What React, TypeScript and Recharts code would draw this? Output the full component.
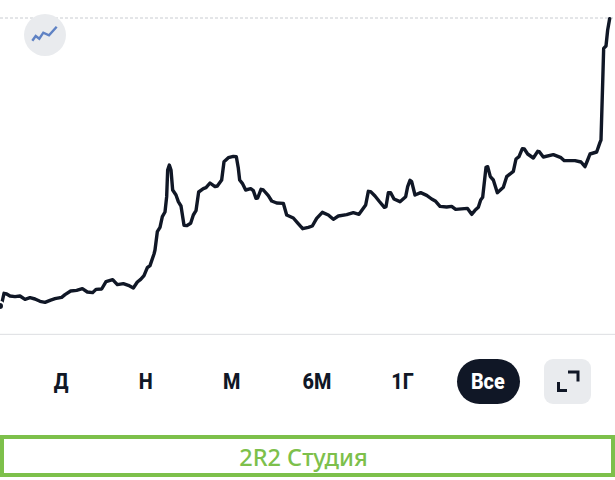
import React from "react";
import { LineChart, Line, XAxis, YAxis, ReferenceLine } from "recharts";

const times = [0,5,12,20,30,45,60,75,90,105,120,135,150,165,185,195,212,230,247,262,278,288,305,318,338,352,370,385,400,412,422,432,442,450,462,465,472,480,487,495,500,503,508,513,518,528,535,543,552,560,572,580,588,596,610,618,630,645,652,665,672,685,700,709,715,719,727,737,752,760,768,773,783,790,805,815,830,850,860,880,892,908,925,937,950,967,985,1000,1015,1040,1060,1077,1090,1097,1105,1112,1125,1137,1153,1158,1165,1172,1182,1200,1217,1223,1230,1235,1245,1262,1280,1295,1307,1320,1340,1355,1367,1402,1415,1425,1435,1442,1448,1458,1463,1471,1480,1492,1510,1520,1540,1548,1557,1567,1573,1583,1600,1613,1618,1630,1660,1683,1693,1725,1743,1755,1763,1770,1790,1800,1803,1808,1811,1818,1823,1829];
const prices = [102,108,140,138,132,130,132,122,127,123,116,113,119,124,128,136,147,149,154,144,142,152,153,175,181,166,169,164,156,174,182,193,217,223,258,270,325,338,370,384,430,510,525,510,450,435,415,402,344,343,350,375,388,444,454,457,471,460,462,480,535,547,551,550,515,480,470,450,454,448,425,426,452,450,433,417,411,410,375,366,352,334,338,342,365,383,375,362,372,376,382,377,395,405,446,445,432,417,398,400,442,442,423,415,430,460,479,475,435,442,434,423,416,401,399,401,392,395,377,389,398,420,428,518,520,490,480,442,458,490,506,543,550,574,573,558,546,566,565,549,556,547,538,538,534,520,540,558,564,593,600,770,875,882,930,964];
const topLevel = 966;
const baseLevel = 17;
const ranges = ["Д", "Н", "М", "6М", "1Г", "Все"];
const rangeCenters = [61, 146, 232, 317, 402, 488];
const activeRange = "Все";
const footer = "2R2 Студия";

const chartData = times.map((t, i) => ({ t, price: prices[i] }));
const ink = "#101726";
const green = "#7dc04b";

export default function App() {
  return (
    <div style={{ position: "absolute", left: 0, top: 0, width: 615, height: 480, background: "#fff", overflow: "hidden" }}>
      <div style={{ position: "absolute", left: 0, top: 0 }}>
        <LineChart width={615} height={340} data={chartData} margin={{ top: 0, right: 0, bottom: 0, left: 0 }}>
          <XAxis dataKey="t" type="number" domain={[0, 1845]} hide />
          <YAxis type="number" domain={[0, 1020]} hide />
          <ReferenceLine y={topLevel} stroke="#c9ccd1" strokeWidth={1} strokeDasharray="3 2" />
          <ReferenceLine y={baseLevel} stroke="#dcdee1" strokeWidth={1} />
          <Line dataKey="price" type="linear" stroke={ink} strokeWidth={3.4} dot={false} isAnimationActive={false} strokeLinejoin="round" strokeLinecap="round" />
        </LineChart>
      </div>

      <div style={{ position: "absolute", left: 24, top: 14, width: 42, height: 42, borderRadius: 21, background: "#e9ebee" }}>
        <svg width={42} height={42} style={{ display: "block" }}>
          <polyline points="8.3,26.7 11.7,22 15.3,24.7 19.3,18.7 25,21.3 32.7,12.7" fill="none" stroke="#5f82c4" strokeWidth={2.4} />
        </svg>
      </div>

      {ranges.map((r, i) => {
        const active = r === activeRange;
        return (
          <div key={r} style={{ position: "absolute", left: rangeCenters[i] - 40, width: 80, top: 367, height: 30, lineHeight: "30px", textAlign: "center", fontFamily: "Roboto, sans-serif", fontWeight: 800, fontSize: 22, color: active ? "#fff" : ink, zIndex: 2 }}>
            <span style={{ display: "inline-block", transform: "scaleX(0.9)" }}>{r}</span>
          </div>
        );
      })}
      <div style={{ position: "absolute", left: 457, top: 359, width: 63, height: 45, borderRadius: 23, background: ink }} />
      <div style={{ position: "absolute", left: 544, top: 359, width: 47, height: 45, borderRadius: 9, background: "#e9ebee" }}>
        <svg width={47} height={45} style={{ display: "block" }}>
          <path d="M14.5 23 V31.5 H23 M24 13 H34 V22.5" fill="none" stroke={ink} strokeWidth={3} />
        </svg>
      </div>

      <div style={{ position: "absolute", left: 0, top: 435, width: 615, height: 42, boxSizing: "border-box", border: `4px solid ${green}`, textAlign: "center", lineHeight: "36px", fontFamily: "'Noto Sans', sans-serif", fontWeight: 500, fontSize: 23.5, color: green, paddingRight: 8 }}>
        {footer}
      </div>
    </div>
  );
}
